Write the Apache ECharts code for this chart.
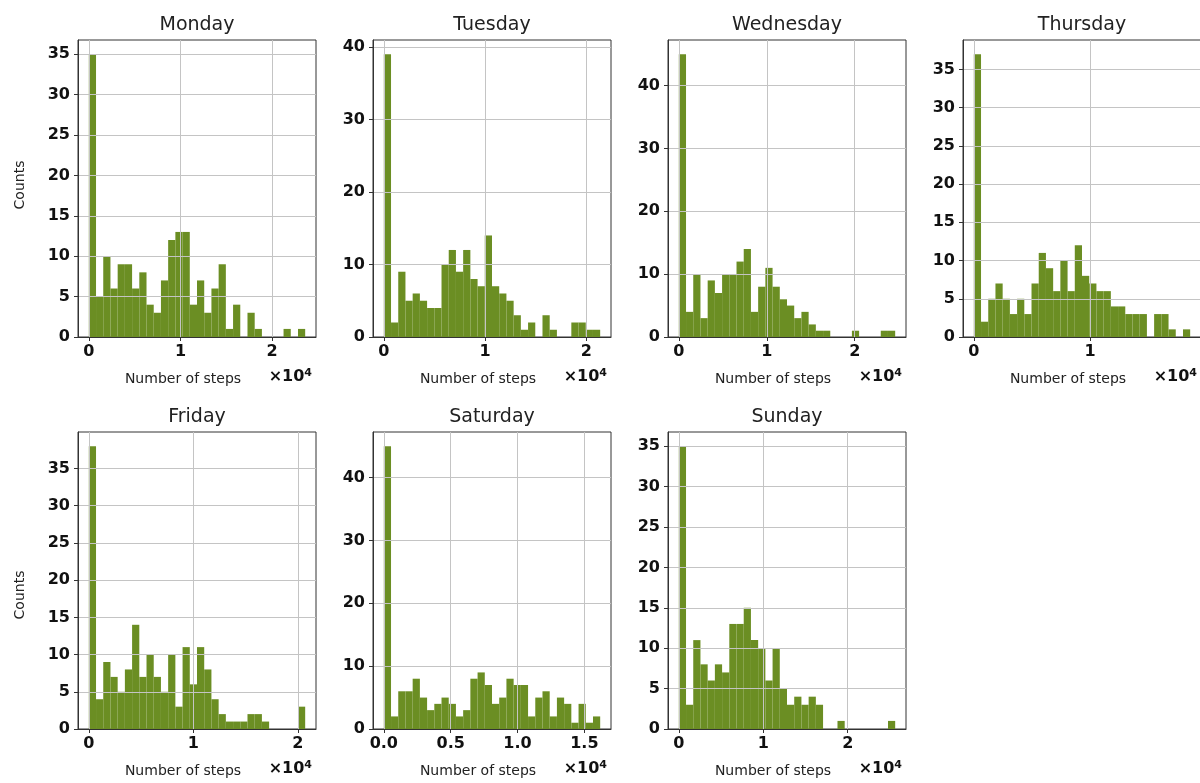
<!DOCTYPE html>
<html>
<head>
<meta charset="utf-8">
<script src="https://cdn.jsdelivr.net/npm/echarts@6/dist/echarts.min.js"></script>
<style>
html,body{margin:0;padding:0;background:#fff}
#main{width:1200px;height:783px}
</style>
</head>
<body>
<div id="main"></div>
<script>
var days = ['Monday', 'Tuesday', 'Wednesday', 'Thursday', 'Friday', 'Saturday', 'Sunday'];

// 30 bins per day, from 0 up to the largest step count of that day
var monday    = [35,5,10,6,9,9,6,8,4,3,7,12,13,13,4,7,3,6,9,1,4,0,3,1,0,0,0,1,0,1];
var tuesday   = [39,2,9,5,6,5,4,4,10,12,9,12,8,7,14,7,6,5,3,1,2,0,3,1,0,0,2,2,1,1];
var wednesday = [45,4,10,3,9,7,10,10,12,14,4,8,11,8,6,5,3,4,2,1,1,0,0,0,1,0,0,0,1,1];
var thursday  = [37,2,5,7,5,3,5,3,7,11,9,6,10,6,12,8,7,6,6,4,4,3,3,3,0,3,3,1,0,1];
var friday    = [38,4,9,7,5,8,14,7,10,7,5,10,3,11,6,11,8,4,2,1,1,1,2,2,1,0,0,0,0,3];
var saturday  = [45,2,6,6,8,5,3,4,5,4,2,3,8,9,7,4,5,8,7,7,2,5,6,2,5,4,1,4,1,2];
var sunday    = [35,3,11,8,6,8,7,13,13,15,11,10,6,10,5,3,4,3,4,3,0,0,1,0,0,0,0,0,0,1];

var counts = [monday, tuesday, wednesday, thursday, friday, saturday, sunday];
var stepMax = [23600, 21360, 24600, 18620, 20700, 16180, 25620];

var xTicks = [
  [0, 10000, 20000], [0, 10000, 20000], [0, 10000, 20000], [0, 10000],
  [0, 10000, 20000], [0, 5000, 10000, 15000], [0, 10000, 20000]
];
var xTickLabels = [
  ['0','1','2'], ['0','1','2'], ['0','1','2'], ['0','1'],
  ['0','1','2'], ['0.0','0.5','1.0','1.5'], ['0','1','2']
];
var yTicks = [
  [0,5,10,15,20,25,30,35], [0,10,20,30,40], [0,10,20,30,40], [0,5,10,15,20,25,30,35],
  [0,5,10,15,20,25,30,35], [0,10,20,30,40], [0,5,10,15,20,25,30,35]
];

var barColor = '#6b8e23';
var gridW = 238, gridH = 297;
var lefts = [78, 373, 668, 963];
var tops = [40, 432];

var grids = [], xAxes = [], yAxes = [], series = [], graphics = [];

days.forEach(function (day, i) {
  var col = i % 4, row = Math.floor(i / 4);
  var L = lefts[col], T = tops[row];
  grids.push({
    left: L, top: T, width: gridW, height: gridH,
    show: true, borderColor: '#333', borderWidth: 1,
    backgroundColor: 'transparent', containLabel: false, outerBoundsMode: 'none'
  });

  var maxC = Math.max.apply(null, counts[i]);
  var labels = xTickLabels[i], ticks = xTicks[i];

  xAxes.push({
    type: 'value', gridIndex: i, z: 3,
    min: -0.05 * stepMax[i], max: 1.05 * stepMax[i],
    axisLine: { show: true, onZero: false, lineStyle: { color: '#333', width: 1 } },
    axisTick: { show: true, length: 4, customValues: ticks, lineStyle: { color: '#333' } },
    axisLabel: {
      customValues: ticks, margin: 7, color: '#111',
      fontFamily: 'DejaVu Sans', fontWeight: 'bold', fontSize: 16,
      formatter: function (v) {
        var k = ticks.indexOf(v);
        return k >= 0 ? labels[k] : '';
      }
    },
    splitLine: { show: true, lineStyle: { color: '#c4c4c4', width: 1 } }
  });

  yAxes.push({
    type: 'value', gridIndex: i, z: 3,
    min: 0, max: 1.05 * maxC,
    axisLine: { show: true, onZero: false, lineStyle: { color: '#333', width: 1 } },
    axisTick: { show: true, length: 4, customValues: yTicks[i], lineStyle: { color: '#333' } },
    axisLabel: {
      customValues: yTicks[i], margin: 8, color: '#111',
      fontFamily: 'DejaVu Sans', fontWeight: 'bold', fontSize: 16
    },
    splitLine: { show: true, lineStyle: { color: '#c4c4c4', width: 1 } }
  });

  var binW = stepMax[i] / counts[i].length;
  var data = counts[i].map(function (c, j) { return [j * binW, (j + 1) * binW, c]; });

  series.push({
    type: 'custom', name: day, xAxisIndex: i, yAxisIndex: i, z: 1,
    encode: { x: [0, 1], y: 2 },
    data: data,
    renderItem: function (params, api) {
      var p0 = api.coord([api.value(0), api.value(2)]);
      var p1 = api.coord([api.value(1), 0]);
      return {
        type: 'rect',
        shape: { x: p0[0], y: p0[1], width: p1[0] - p0[0], height: p1[1] - p0[1] },
        style: { fill: barColor }
      };
    }
  });

  // title
  graphics.push({
    type: 'text', x: L + gridW / 2, y: T - 15,
    style: { text: day, fill: '#222', font: '19px "DejaVu Sans"', textAlign: 'center', textVerticalAlign: 'middle' }
  });
  // x label
  graphics.push({
    type: 'text', x: L + 105, y: T + gridH + 42,
    style: { text: 'Number of steps', fill: '#222', font: '14px "DejaVu Sans"', textAlign: 'center', textVerticalAlign: 'middle' }
  });
  // offset text
  graphics.push({
    type: 'text', x: L + gridW - 4, y: T + gridH + 40,
    style: {
      text: '×10{s|4}', fill: '#111', font: 'bold 16px "DejaVu Sans"',
      textAlign: 'right', textVerticalAlign: 'middle',
      rich: { s: { fontFamily: 'DejaVu Sans', fontWeight: 'bold', fontSize: 11, verticalAlign: 'top', padding: [0, 0, 8, 0], fill: '#111' } }
    }
  });
});

// y labels on the first column
[185, 595].forEach(function (cy) {
  graphics.push({
    type: 'text', x: 20, y: cy, rotation: Math.PI / 2,
    style: { text: 'Counts', fill: '#222', font: '14px "DejaVu Sans"', textAlign: 'center', textVerticalAlign: 'middle' }
  });
});

var chart = echarts.init(document.getElementById('main'), null, { renderer: 'canvas' });
chart.setOption({
  backgroundColor: '#fff',
  animation: false,
  grid: grids,
  xAxis: xAxes,
  yAxis: yAxes,
  series: series,
  graphic: graphics
});
</script>
</body>
</html>
